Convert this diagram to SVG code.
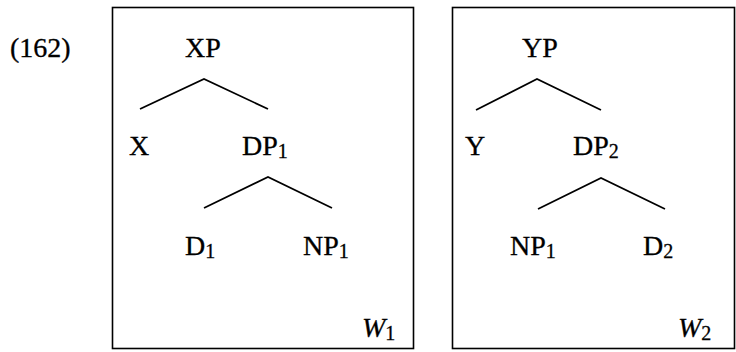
<svg xmlns="http://www.w3.org/2000/svg" width="736" height="352" viewBox="0 0 736 352">
<style>
text{font-family:"Liberation Serif","Times New Roman",serif;font-size:28px;fill:#000;stroke:#000;stroke-width:0.3}
.sub{font-size:20px}
.it{font-style:italic}
.box{fill:none;stroke:#000;stroke-width:1.6}
.edge{stroke:#000;stroke-width:1.8;fill:none}
</style>
<rect width="736" height="352" fill="#fff"/>
<text id="label" x="10" y="57">(162)</text>
<g id="world1">
<rect class="box" x="112.5" y="7.5" width="301" height="341"/>
<g id="XP"><text x="185" y="57">XP</text></g>
<g id="X"><text x="129" y="155">X</text></g>
<g id="DP1"><text x="242" y="155">DP<tspan class="sub" dy="3">1</tspan></text></g>
<g id="D1"><text x="185" y="255">D<tspan class="sub" dy="3">1</tspan></text></g>
<g id="NP1a"><text x="303" y="255">NP<tspan class="sub" dy="3">1</tspan></text></g>
<g id="W1"><text x="362" y="337"><tspan class="it">W</tspan><tspan class="sub" dy="3">1</tspan></text></g>
</g>
<g id="world2">
<rect class="box" x="452.5" y="7.5" width="282" height="341"/>
<g id="YP"><text x="522" y="57">YP</text></g>
<g id="Y"><text x="465" y="155">Y</text></g>
<g id="DP2"><text x="573" y="155">DP<tspan class="sub" dy="3">2</tspan></text></g>
<g id="NP1b"><text x="510" y="255">NP<tspan class="sub" dy="3">1</tspan></text></g>
<g id="D2"><text x="643" y="255">D<tspan class="sub" dy="3">2</tspan></text></g>
<g id="W2"><text x="678" y="337"><tspan class="it">W</tspan><tspan class="sub" dy="3">2</tspan></text></g>
</g>
<g id="connectors">
<polyline class="edge" points="140,109 204,79 268,109"/>
<polyline class="edge" points="204,208 268,177 332,208"/>
<polyline class="edge" points="476,110 537,79 601,110"/>
<polyline class="edge" points="538,209 601,178 665,209"/>
</g>
</svg>
